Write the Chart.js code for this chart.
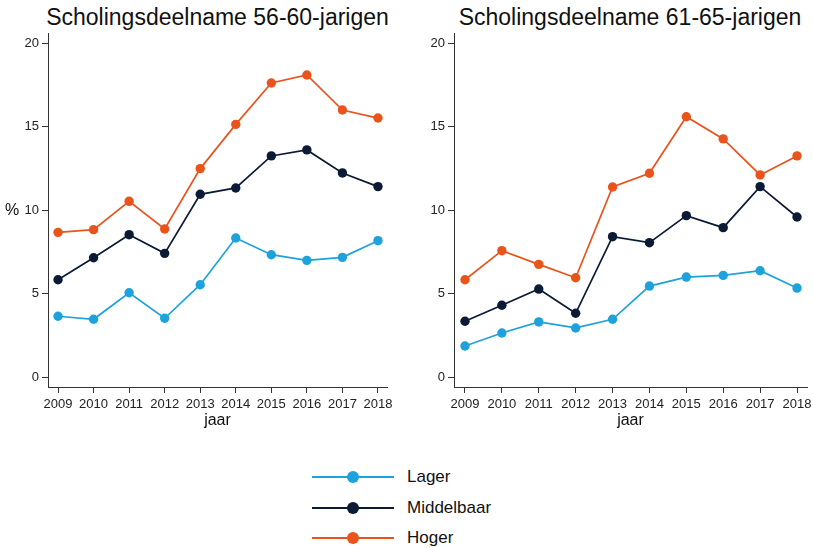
<!DOCTYPE html>
<html>
<head>
<meta charset="utf-8">
<script src="https://cdn.jsdelivr.net/npm/chart.js@4"></script>
<style>
  html, body { margin: 0; padding: 0; background: #fff; }
  body { width: 813px; height: 548px; position: relative; overflow: hidden; font-family: "Liberation Sans", Arial, sans-serif; }
  .title { position: absolute; top: 6px; font-size: 23px; line-height: 23px; color: #111; white-space: nowrap; transform: translateX(-50%); }
  .cv { position: absolute; top: 0; }
  .leg { position: absolute; left: 312px; width: 200px; height: 24px; }
  .leg .ln { position: absolute; left: 0; top: 11px; width: 82px; height: 2px; }
  .leg .dot { position: absolute; left: 35px; top: 6px; width: 12px; height: 12px; border-radius: 50%; }
  .leg .tx { position: absolute; left: 95px; top: 2px; font-size: 17px; line-height: 20px; color: #111; }
</style>
</head>
<body>
<div class="title" style="left:217.5px">Scholingsdeelname 56-60-jarigen</div>
<div class="title" style="left:630px">Scholingsdeelname 61-65-jarigen</div>
<canvas id="c1" class="cv" style="left:0px" width="400" height="430"></canvas>
<canvas id="c2" class="cv" style="left:400px" width="413" height="430"></canvas>
<div id="legend"></div>
<script>
// ---- data ----
const years = [2009, 2010, 2011, 2012, 2013, 2014, 2015, 2016, 2017, 2018];
const yTicks = [0, 5, 10, 15, 20];
const seriesNames = ["Lager", "Middelbaar", "Hoger"];
const seriesColors = ["#1da2dc", "#0b1a35", "#e8541c"];

const lager5660 = [3.64, 3.46, 5.05, 3.52, 5.53, 8.33, 7.33, 6.99, 7.17, 8.17];
const middelbaar5660 = [5.83, 7.15, 8.53, 7.41, 10.95, 11.33, 13.25, 13.61, 12.23, 11.41];
const hoger5660 = [8.67, 8.83, 10.53, 8.87, 12.49, 15.14, 17.62, 18.10, 16.00, 15.52];

const lager6165 = [1.86, 2.64, 3.30, 2.94, 3.46, 5.45, 5.99, 6.09, 6.37, 5.33];
const middelbaar6165 = [3.34, 4.30, 5.27, 3.82, 8.41, 8.05, 9.67, 8.95, 11.41, 9.59];
const hoger6165 = [5.83, 7.57, 6.75, 5.95, 11.39, 12.21, 15.60, 14.27, 12.11, 13.25];

// ---- chart builder ----
const FONT = "'Liberation Sans', Arial, sans-serif";

function makeDatasets(lists) {
  return lists.map((vals, i) => ({
    label: seriesNames[i],
    data: vals.map((v, j) => ({ x: years[j], y: v })),
    borderColor: seriesColors[i],
    backgroundColor: seriesColors[i],
    borderWidth: 1.7,
    pointRadius: 4.7,
    pointBorderWidth: 0,
    pointHoverRadius: 4.7,
    tension: 0
  }));
}

const textPlugin = {
  id: 'extraText',
  afterDraw(chart, args, opts) {
    const ctx = chart.ctx;
    const area = chart.chartArea;
    ctx.save();
    ctx.fillStyle = '#111';
    ctx.font = '16px ' + FONT;
    ctx.textAlign = 'center';
    ctx.textBaseline = 'middle';
    ctx.fillText('jaar', (area.left + area.right) / 2, 421);
    if (opts.percent) {
      ctx.fillText('%', 12, chart.scales.y.getPixelForValue(10));
    }
    ctx.restore();
  }
};

function makeChart(id, lists, yWidth, padRight, xMin, xMax, percent) {
  return new Chart(document.getElementById(id), {
    type: 'line',
    data: { datasets: makeDatasets(lists) },
    options: {
      responsive: false,
      animation: false,
      layout: { padding: { top: 33, right: padRight, left: 0, bottom: 0 } },
      plugins: { legend: { display: false }, tooltip: { enabled: false }, extraText: { percent } },
      scales: {
        x: {
          type: 'linear',
          min: xMin, max: xMax,
          afterFit(s) { s.height = 43; s.paddingLeft = 0; s.paddingRight = 0; },
          afterBuildTicks(s) { s.ticks = years.map(v => ({ value: v })); },
          grid: { drawOnChartArea: false, drawTicks: true, tickLength: 6, tickColor: '#333' },
          border: { display: true, color: '#333', width: 1 },
          ticks: { color: '#222', font: { size: 13, family: FONT }, padding: 4, maxRotation: 0, autoSkip: false, callback: v => String(v) }
        },
        y: {
          type: 'linear',
          min: -0.599, max: 20.617,
          afterFit(s) { s.width = yWidth; s.paddingTop = 0; s.paddingBottom = 0; },
          afterBuildTicks(s) { s.ticks = yTicks.map(v => ({ value: v })); },
          grid: { drawOnChartArea: false, drawTicks: true, tickLength: 6, tickColor: '#333' },
          border: { display: true, color: '#333', width: 1 },
          ticks: { color: '#222', font: { size: 13, family: FONT }, padding: 3, callback: v => String(v) }
        }
      }
    },
    plugins: [textPlugin]
  });
}

makeChart('c1', [lager5660, middelbaar5660, hoger5660], 48, 13, 2008.718, 2018.254, true);
makeChart('c2', [lager6165, middelbaar6165, hoger6165], 54, 6, 2008.702, 2018.271, false);

// ---- legend ----
const legendTops = [465, 496, 526];
const legendEl = document.getElementById('legend');
seriesNames.forEach((name, i) => {
  const row = document.createElement('div');
  row.className = 'leg';
  row.style.top = legendTops[i] + 'px';
  row.innerHTML = '<div class="ln" style="background:' + seriesColors[i] + '"></div>' +
    '<div class="dot" style="background:' + seriesColors[i] + '"></div>' +
    '<div class="tx">' + name + '</div>';
  legendEl.appendChild(row);
});
</script>
</body>
</html>
